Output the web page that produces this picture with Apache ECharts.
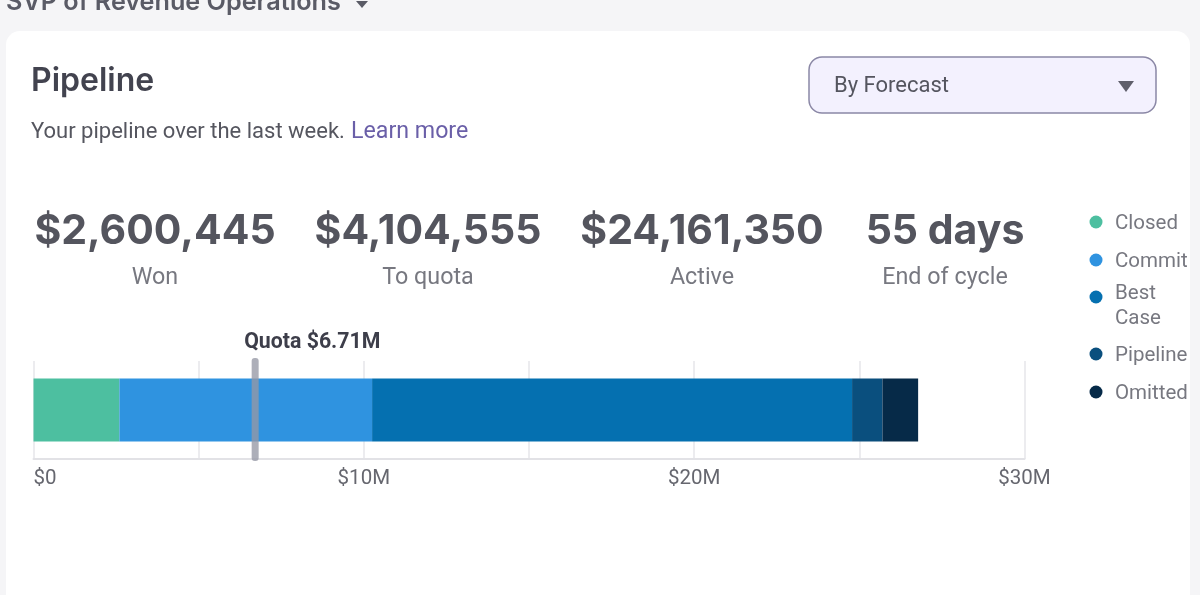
<!DOCTYPE html>
<html>
<head>
<meta charset="utf-8">
<title>Pipeline</title>
<script src="https://cdn.jsdelivr.net/npm/echarts@6/dist/echarts.min.js"></script>
<style>
html, body { margin: 0; padding: 0; background: #f5f5f7; }
#chart { width: 1200px; height: 595px; }
</style>
</head>
<body>
<div id="chart"></div>
<script>
var categories = ['Pipeline'];
var seriesNames = ['Closed', 'Commit', 'Best Case', 'Pipeline', 'Omitted'];
var seriesValues = [2.6, 7.65, 14.53, 0.92, 1.08]; // $M
var seriesColors = ['#4dbfa0', '#2f93e0', '#0570b0', '#0a4f7e', '#062a48'];
var tickLabels = ['$0', '', '$10M', '', '$20M', '', '$30M'];
var quotaValue = 6.71;
var quotaLabel = 'Quota $6.71M';
var statValues = ['$2,600,445', '$4,104,555', '$24,161,350', '55 days'];
var statLabels = ['Won', 'To quota', 'Active', 'End of cycle'];

var bodyFont = 'Roboto, sans-serif';
var headFont = 'Inter, sans-serif';
var statX = [155, 428, 702, 945];
var legendY = [222, 260, 297, 354, 392];

var myecharts = echarts.init(document.getElementById('chart'), null, { renderer: 'canvas' });

function text(x, y, str, font, size, weight, color, align) {
	return {
		type: 'text', x: x, y: y, z: 10,
		style: {
			text: str, fontFamily: font, fontSize: size, fontWeight: weight,
			fill: color, align: align || 'left', verticalAlign: 'middle'
		}
	};
}

var elements = [
	{ type: 'rect', z: -10, shape: { x: 6, y: 31, width: 1184, height: 600, r: 14 }, style: { fill: '#ffffff' } },
	text(6, 2, 'SVP of Revenue Operations', headFont, 25.2, 600, '#5a5b66'),
	{ type: 'polygon', z: 10, shape: { points: [[356, 1], [368, 1], [362, 8]] }, style: { fill: '#5a5b66' } },
	text(31, 81, 'Pipeline', headFont, 32, 600, '#42434f'),
	text(31, 132, 'Your pipeline over the last week.', bodyFont, 22, 400, '#55565f'),
	text(351, 132, 'Learn more', bodyFont, 23.2, 400, '#6a5fa8'),
	{ type: 'rect', z: 5, shape: { x: 809, y: 57, width: 347, height: 56, r: 13 }, style: { fill: '#f3f1fe', stroke: '#8b88a6', lineWidth: 1.5 } },
	text(834, 86, 'By Forecast', bodyFont, 22, 400, '#54555f'),
	{ type: 'polygon', z: 10, shape: { points: [[1118, 81], [1134, 81], [1126, 92]] }, style: { fill: '#5f5f6b' } }
];

// stats row
for (var i = 0; i < statValues.length; i++) {
	elements.push(text(statX[i], 232, statValues[i], headFont, 41, 700, '#54555e', 'center'));
	elements.push(text(statX[i], 278, statLabels[i], bodyFont, 23.3, 400, '#777880', 'center'));
}

// legend on the right
for (var j = 0; j < seriesNames.length; j++) {
	elements.push({ type: 'circle', z: 10, shape: { cx: 1096, cy: legendY[j], r: 6.5 }, style: { fill: seriesColors[j] } });
	if (seriesNames[j] === 'Best Case') {
		elements.push(text(1115, 294, 'Best', bodyFont, 20.5, 400, '#777880'));
		elements.push(text(1115, 319, 'Case', bodyFont, 20.5, 400, '#777880'));
	} else {
		elements.push(text(1115, legendY[j] + 2, seriesNames[j], bodyFont, 20.5, 400, '#777880'));
	}
}

var series = seriesNames.map(function (name, k) {
	return {
		name: name,
		type: 'bar',
		stack: 'total',
		barWidth: 63,
		itemStyle: { color: seriesColors[k] },
		data: [seriesValues[k]]
	};
});

// quota marker, placed through the x axis scale
series.push({
	type: 'custom',
	name: 'Quota',
	clip: false,
	z: 10,
	data: [[quotaValue, 0]],
	encode: { x: 0, y: 1 },
	renderItem: function (params, api) {
		var p = api.coord([api.value(0), 0]);
		return {
			type: 'group',
			children: [
				{
					type: 'rect',
					shape: { x: p[0] - 3.5, y: p[1] - 52, width: 7, height: 103, r: 3 },
					style: { fill: 'rgba(150,152,165,0.78)' }
				},
				{
					type: 'text',
					x: p[0] - 11,
					y: p[1] - 67,
					style: {
						text: quotaLabel, fontFamily: bodyFont, fontSize: 21.3, fontWeight: 700,
						fill: '#3d3e4a', align: 'left', verticalAlign: 'middle'
					}
				}
			]
		};
	}
});

var option = {
	animation: false,
	backgroundColor: '#f5f5f7',
	grid: { left: 33.5, top: 361, width: 991, height: 98 },
	xAxis: {
		type: 'value',
		min: 0,
		max: 30,
		interval: 5,
		axisLine: { show: true, lineStyle: { color: '#e2e2e6', width: 2 } },
		axisTick: { show: false },
		splitLine: { show: true, lineStyle: { color: '#e6e6ea', width: 1.5 } },
		axisLabel: {
			margin: 9,
			fontFamily: bodyFont,
			fontSize: 20.5,
			color: '#66676f',
			alignMinLabel: 'left',
			formatter: function (value) {
				return tickLabels[value / 5];
			}
		}
	},
	yAxis: {
		type: 'category',
		data: categories,
		axisLine: { show: false },
		axisTick: { show: false },
		axisLabel: { show: false }
	},
	graphic: { elements: elements },
	series: series
};

myecharts.setOption(option);
</script>
</body>
</html>
